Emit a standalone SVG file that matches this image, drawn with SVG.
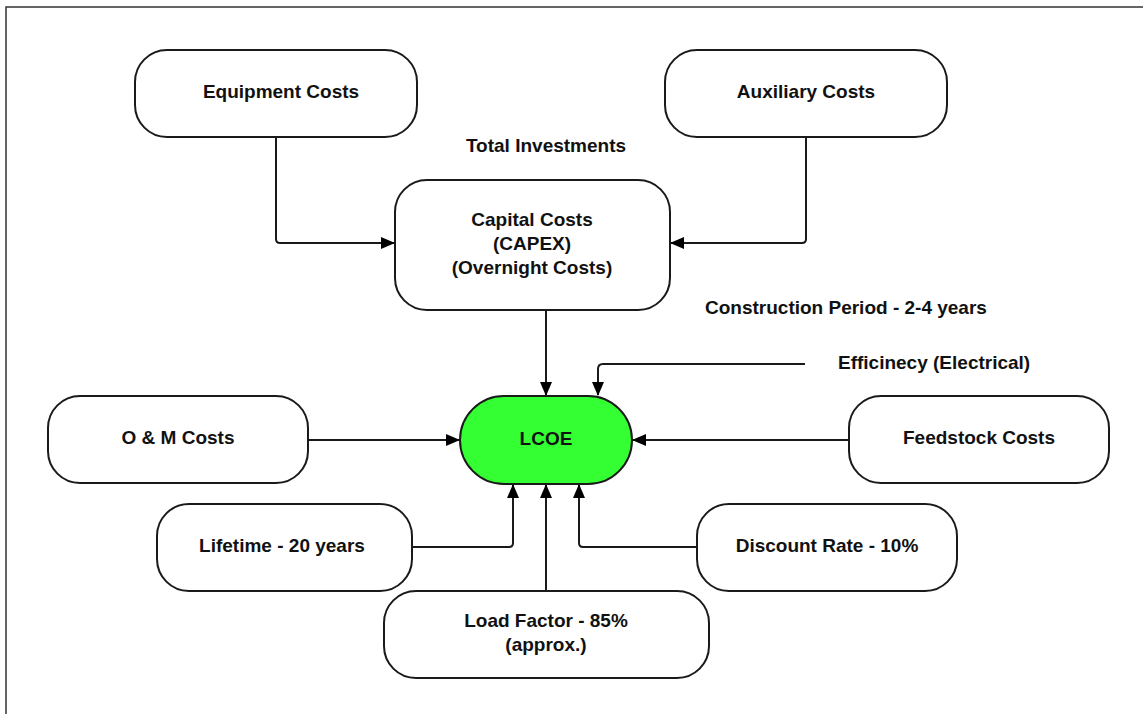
<svg xmlns="http://www.w3.org/2000/svg" width="1143" height="714" viewBox="0 0 1143 714">
<style>
.box{fill:#fff;stroke:#1a1a1a;stroke-width:2}
.lcoe{fill:#33ff33;stroke:#1a1a1a;stroke-width:2}
.t{font-family:"Liberation Sans",Arial,sans-serif;font-weight:bold;font-size:19px;fill:#111;text-anchor:middle}
.ts{font-family:"Liberation Sans",Arial,sans-serif;font-weight:bold;font-size:19px;fill:#111}
.c{fill:none;stroke:#1a1a1a;stroke-width:2}
</style>
<defs>
<marker id="ah" markerUnits="userSpaceOnUse" markerWidth="14" markerHeight="12" refX="13" refY="6" orient="auto">
<path d="M0,0 L14,6 L0,12 z" fill="#000"/>
</marker>
</defs>
<rect width="1143" height="714" fill="#fff"/>
<path d="M6,714 L6,7 L1143,7" fill="none" stroke="#333" stroke-width="1.5"/>
<g id="connectors">
<path class="c" d="M276,137 V239 Q276,243 280,243 H394" marker-end="url(#ah)"/>
<path class="c" d="M806,137 V239 Q806,243 802,243 H671" marker-end="url(#ah)"/>
<path class="c" d="M546,310 V395" marker-end="url(#ah)"/>
<path class="c" d="M805,364 H603 Q598,364 598,369 V395" marker-end="url(#ah)"/>
<path class="c" d="M308,440 H459" marker-end="url(#ah)"/>
<path class="c" d="M849,440 H633" marker-end="url(#ah)"/>
<path class="c" d="M412,547 H509 Q513,547 513,543 V485" marker-end="url(#ah)"/>
<path class="c" d="M546,591 V485" marker-end="url(#ah)"/>
<path class="c" d="M697,547 H583 Q579,547 579,543 V485" marker-end="url(#ah)"/>
</g>
<g id="equipment"><rect class="box" x="135" y="50" width="282" height="87" rx="32"/><text class="t" x="281" y="98">Equipment Costs</text></g>
<g id="auxiliary"><rect class="box" x="665" y="50" width="282" height="87" rx="32"/><text class="t" x="806" y="98">Auxiliary Costs</text></g>
<g id="total-investments"><text class="t" x="546" y="152">Total Investments</text></g>
<g id="capital"><rect class="box" x="395" y="180" width="275" height="130" rx="32"/><text class="t" x="532" y="226">Capital Costs</text><text class="t" x="532" y="250">(CAPEX)</text><text class="t" x="532" y="274">(Overnight Costs)</text></g>
<g id="construction"><text class="ts" x="705" y="314">Construction Period - 2-4 years</text></g>
<g id="efficiency"><text class="ts" x="838" y="369">Efficinecy (Electrical)</text></g>
<g id="lcoe"><rect class="lcoe" x="460" y="396" width="172" height="88" rx="44"/><text class="t" x="546" y="445">LCOE</text></g>
<g id="om"><rect class="box" x="48" y="396" width="260" height="87" rx="32"/><text class="t" x="178" y="444">O &amp; M Costs</text></g>
<g id="feedstock"><rect class="box" x="849" y="396" width="260" height="87" rx="32"/><text class="t" x="979" y="444">Feedstock Costs</text></g>
<g id="lifetime"><rect class="box" x="157" y="504" width="255" height="87" rx="32"/><text class="t" x="282" y="552">Lifetime - 20 years</text></g>
<g id="discount"><rect class="box" x="697" y="504" width="260" height="87" rx="32"/><text class="t" x="827" y="552">Discount Rate - 10%</text></g>
<g id="loadfactor"><rect class="box" x="384" y="591" width="325" height="87" rx="32"/><text class="t" x="546" y="627">Load Factor - 85%</text><text class="t" x="546" y="651">(approx.)</text></g>
</svg>
